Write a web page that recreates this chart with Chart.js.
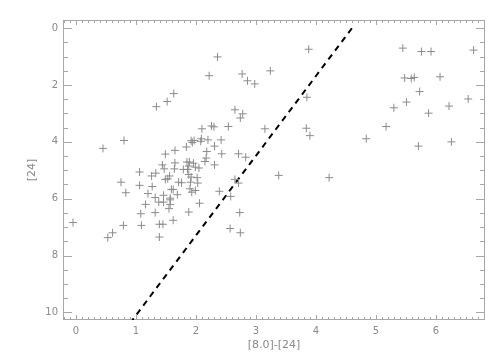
<!DOCTYPE html>
<html>
<head>
<meta charset="utf-8">
<script src="https://cdn.jsdelivr.net/npm/chart.js@4.4.1/dist/chart.umd.min.js"></script>
<style>
  html, body { margin: 0; padding: 0; background: #fff; }
  #wrap { width: 504px; height: 360px; }
</style>
</head>
<body>
<div id="wrap"><canvas id="myChart" width="504" height="360"></canvas></div>
<script>
// colour [8.0]-[24]
var colorX = [
  -0.05, 0.45, 0.80, 0.75, 0.83, 0.79, 0.53, 0.61, 1.06, 1.06,
  1.08, 1.09, 1.16, 1.20, 1.26, 1.27, 1.33, 1.34, 1.32, 1.32,
  1.38, 1.39, 1.39, 1.45, 1.44, 1.46, 1.46, 1.49, 1.47, 1.49,
  1.52, 1.53, 1.56, 1.55, 1.57, 1.57, 1.57, 1.59, 1.62, 1.63,
  1.65, 1.64, 1.65, 1.62, 1.69, 1.71, 1.76, 1.79, 1.84, 1.85,
  1.86, 1.88, 1.88, 1.88, 1.89, 1.90, 1.92, 1.92, 1.94, 1.97,
  1.93, 1.96, 1.99, 1.99, 2.03, 2.05, 2.06, 2.08, 2.09, 2.10,
  2.17, 2.18, 2.20, 2.22, 2.26, 2.30, 2.31, 2.31, 2.36, 2.39,
  2.42, 2.43, 2.54, 2.58, 2.57, 2.65, 2.65, 2.71, 2.71, 2.73,
  2.74, 2.74, 2.78, 2.77, 2.83, 2.86, 2.98, 3.15, 3.24, 3.38,
  3.84, 3.85, 3.88, 3.90, 4.22, 4.84, 5.17, 5.30, 5.45, 5.48,
  5.51, 5.59, 5.64, 5.71, 5.73, 5.76, 5.92, 5.88, 6.07, 6.22,
  6.26, 6.54, 6.63, 2.15, 2.02, 1.91
];
// magnitude [24]
var mag24 = [
  6.84, 4.23, 3.95, 5.42, 5.79, 6.94, 7.37, 7.20, 5.06, 5.53,
  6.53, 6.94, 6.20, 5.82, 5.20, 5.57, 5.10, 2.76, 5.96, 6.49,
  6.12, 6.90, 7.35, 6.90, 4.81, 5.88, 6.12, 4.43, 4.95, 5.32,
  2.58, 5.30, 5.20, 6.35, 5.98, 6.04, 6.20, 5.67, 6.76, 2.30,
  4.30, 4.95, 4.74, 5.68, 5.86, 5.42, 5.44, 4.97, 4.18, 4.71,
  4.97, 4.85, 5.15, 6.47, 4.71, 5.65, 5.24, 3.96, 4.02, 3.95,
  5.77, 4.75, 4.89, 5.71, 5.45, 4.92, 6.16, 3.98, 3.89, 3.54,
  4.57, 4.34, 3.93, 1.67, 3.44, 3.47, 4.15, 4.81, 1.01, 5.74,
  3.93, 4.42, 3.46, 5.92, 7.05, 2.87, 5.32, 4.42, 5.45, 6.49,
  7.20, 3.16, 3.01, 1.61, 4.54, 1.85, 1.96, 3.54, 1.50, 5.18,
  3.52, 2.43, 0.74, 3.78, 5.26, 3.89, 3.46, 2.80, 0.70, 1.75,
  2.60, 1.77, 1.73, 4.15, 2.23, 0.82, 0.82, 2.99, 1.71, 2.74,
  4.00, 2.49, 0.77, 4.69, 5.26, 5.42
];
// dividing line
var lineX = [4.60, 0.94];
var lineY = [0, 10.27];

var xTicks = [0, 1, 2, 3, 4, 5, 6];
var yTicks = [0, 2, 4, 6, 8, 10];

var axisGrey = '#a8a8a8';
var textGrey = '#8a8a8a';

var points = colorX.map(function (x, i) { return { x: x, y: mag24[i] }; });
var cut = lineX.map(function (x, i) { return { x: x, y: lineY[i] }; });

// IDL style box with inward ticks
var boxTicks = {
  id: 'boxTicks',
  beforeDatasetsDraw: function (chart) {
    var c = chart.ctx, a = chart.chartArea;
    var sx = chart.scales.x, sy = chart.scales.y;
    c.save();
    c.strokeStyle = axisGrey;
    c.lineWidth = 1;
    c.strokeRect(a.left + 0.5, a.top + 0.5, a.right - a.left - 1, a.bottom - a.top - 1);
    c.beginPath();
    for (var k = -2; k <= 68; k++) {
      var v = k / 10;
      if (v < sx.min || v > sx.max) continue;
      var px = Math.round(sx.getPixelForValue(v)) + 0.5;
      var len = (k % 10 === 0) ? 5 : 3;
      c.moveTo(px, a.bottom); c.lineTo(px, a.bottom - len);
      c.moveTo(px, a.top); c.lineTo(px, a.top + len);
    }
    for (var j = 0; j <= 20; j++) {
      var w = j / 2;
      var py = Math.round(sy.getPixelForValue(w)) + 0.5;
      var l2 = (j % 4 === 0) ? 9 : 5;
      c.moveTo(a.left, py); c.lineTo(a.left + l2, py);
      c.moveTo(a.right, py); c.lineTo(a.right - l2, py);
    }
    c.stroke();
    c.restore();
  }
};

var ctx = document.getElementById('myChart').getContext('2d');
var myChart = new Chart(ctx, {
  type: 'scatter',
  data: {
    datasets: [{
      label: 'sources',
      data: points,
      pointStyle: 'cross',
      pointRadius: 4,
      borderColor: '#8c8c8c',
      borderWidth: 1,
      backgroundColor: '#8c8c8c'
    }, {
      type: 'line',
      label: 'cut',
      data: cut,
      borderColor: '#000',
      borderWidth: 2,
      borderDash: [6, 5],
      pointRadius: 0,
      fill: false
    }]
  },
  options: {
    responsive: false,
    animation: false,
    layout: { padding: { top: 20, right: 19, left: 0, bottom: 0 } },
    plugins: { legend: { display: false }, tooltip: { enabled: false } },
    scales: {
      x: {
        type: 'linear',
        min: -0.217,
        max: 6.82,
        grid: { display: false, drawTicks: false },
        border: { display: false },
        afterBuildTicks: function (s) { s.ticks = xTicks.map(function (v) { return { value: v }; }); },
        afterFit: function (s) { s.height = 40; },
        ticks: {
          color: textGrey,
          padding: 5,
          maxRotation: 0,
          font: { family: 'DejaVu Sans', size: 10 }
        },
        title: {
          display: true,
          text: '[8.0]-[24]',
          color: textGrey,
          padding: { top: 0, bottom: 8 },
          font: { family: 'DejaVu Sans', size: 11 }
        }
      },
      y: {
        type: 'linear',
        reverse: true,
        min: -0.29,
        max: 10.27,
        grid: { display: false, drawTicks: false },
        border: { display: false },
        afterBuildTicks: function (s) { s.ticks = yTicks.map(function (v) { return { value: v }; }); },
        afterFit: function (s) { s.width = 63; },
        ticks: {
          color: textGrey,
          padding: 5,
          font: { family: 'DejaVu Sans', size: 10 }
        },
        title: {
          display: true,
          text: '[24]',
          color: textGrey,
          padding: { top: 26, bottom: 0 },
          font: { family: 'DejaVu Sans', size: 11 }
        }
      }
    }
  },
  plugins: [boxTicks]
});
</script>
</body>
</html>
